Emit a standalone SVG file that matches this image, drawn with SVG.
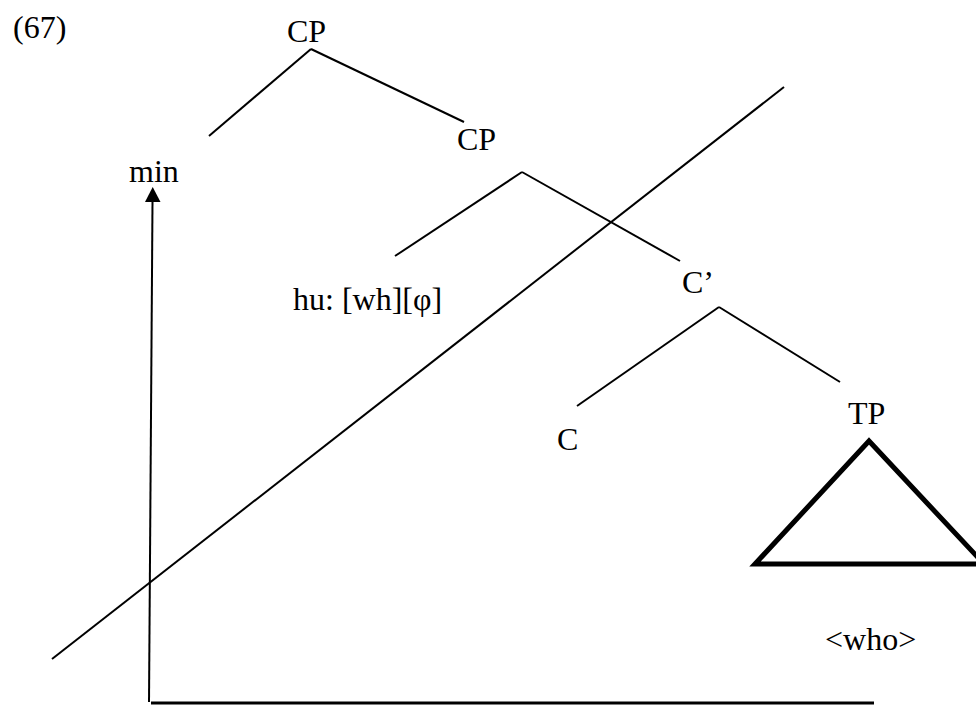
<svg xmlns="http://www.w3.org/2000/svg" width="976" height="706" viewBox="0 0 976 706">
<defs>
<style>
text{font-family:"Liberation Serif","Times New Roman",serif;font-size:32px;fill:#000}
.l{stroke:#000;stroke-width:2;fill:none;stroke-linecap:butt}
.tri{stroke:#000;stroke-width:5;fill:none;stroke-linejoin:miter}
</style>
</defs>
<rect width="976" height="706" fill="#fff"/>
<text x="13" y="38">(67)</text>
<g id="cp1"><text x="287" y="42">CP</text></g>
<g id="cp2"><text x="457" y="150">CP</text></g>
<g id="min"><text x="129" y="182">min</text></g>
<g id="hu"><text x="293" y="310">hu: [wh][φ]</text></g>
<g id="cbar"><text x="682" y="293">C’</text></g>
<g id="c"><text x="557" y="450">C</text></g>
<g id="tp"><text x="848" y="424">TP</text>
<path class="tri" d="M869,441 L755,564 L984,564 Z"/></g>
<g id="who"><text x="825" y="650">&lt;who&gt;</text></g>
<g id="connectors">
<line class="l" x1="311" y1="49" x2="209" y2="136"/>
<line class="l" x1="311" y1="49" x2="464" y2="122"/>
<line class="l" x1="522" y1="172" x2="395" y2="256"/>
<line class="l" x1="522" y1="172" x2="680" y2="261"/>
<line class="l" x1="719" y1="307" x2="577" y2="406"/>
<line class="l" x1="719" y1="307" x2="840" y2="382"/>
<line class="l" x1="52" y1="659" x2="784" y2="87"/>
<line class="l" x1="149" y1="702" x2="152.5" y2="202"/>
<path d="M145,202 L152.7,187 L160.5,202 Z" fill="#000"/>
<line class="l" x1="151" y1="703" x2="874" y2="703" style="stroke-width:3"/>
</g>
</svg>
